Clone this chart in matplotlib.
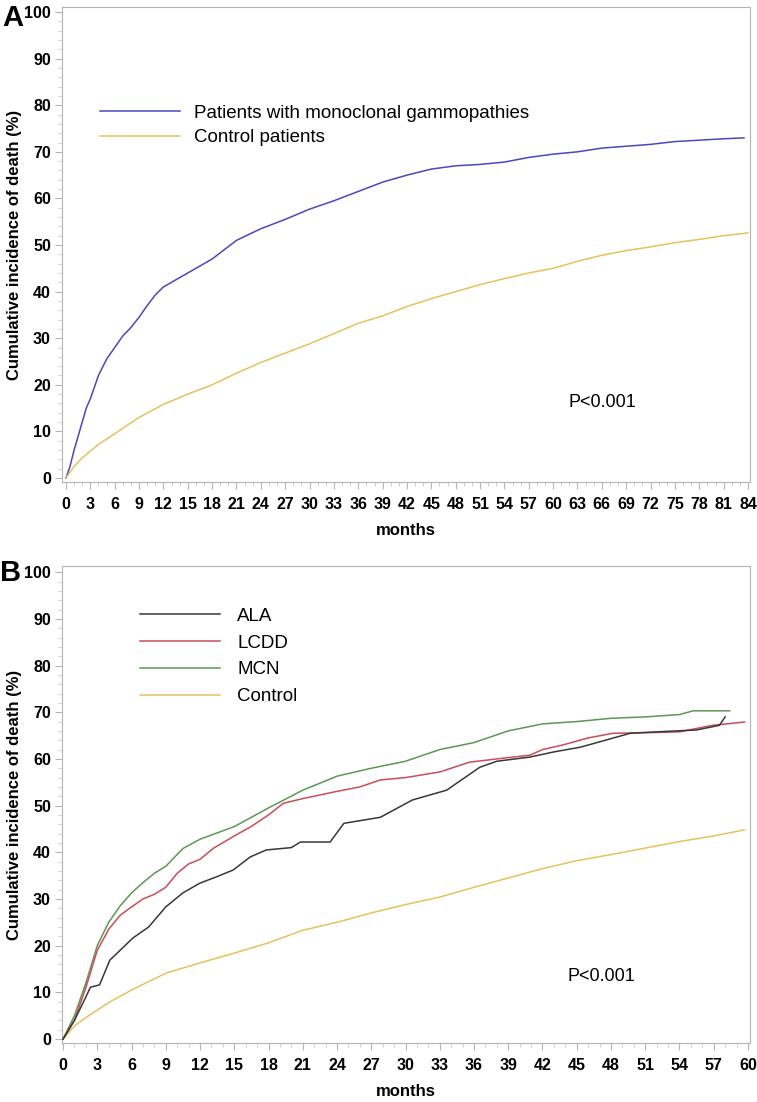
import matplotlib
matplotlib.use("Agg")
import matplotlib.pyplot as plt
from matplotlib.ticker import MultipleLocator

plt.rcParams['font.family'] = ['Liberation Sans', 'DejaVu Sans']

# panel A: monoclonal gammopathies vs controls
a_months_mg = [0, 0.5, 1, 1.5, 2, 2.5, 3, 4, 5, 6, 7, 8, 9, 10, 11, 12, 15, 18, 21, 24, 27,
               30, 33, 36, 39, 42, 45, 48, 51, 54, 57, 60, 63, 66, 69, 72, 75, 78, 81, 83.5]
a_mg = [0, 2.5, 6, 9, 12, 15, 17, 22, 25.5, 28, 30.5, 32.3, 34.5, 37, 39.3, 41, 44, 47, 51, 53.5, 55.5,
        57.7, 59.5, 61.5, 63.5, 65, 66.3, 67, 67.3, 67.8, 68.8, 69.5, 70, 70.8, 71.2, 71.6, 72.2, 72.5, 72.8, 73]

a_months_ctrl = [0, 1, 2, 3, 4, 6, 9, 12, 15, 18, 21, 24, 27, 30, 33, 36, 39, 42, 45, 48,
                 51, 54, 57, 60, 63, 66, 69, 72, 75, 78, 81, 84]
a_ctrl = [0, 2.5, 4.3, 5.8, 7.2, 9.5, 13, 15.8, 18, 20, 22.5, 24.8, 26.8, 28.8, 31, 33.2, 34.8, 36.8, 38.5, 40,
          41.5, 42.8, 44, 45, 46.5, 47.8, 48.8, 49.6, 50.5, 51.2, 52, 52.6]

# panel B: by diagnosis
b_months_ala = [0, 1, 2, 2.4, 3.2, 4.1, 5, 6.1, 7.5, 9, 10.5, 12, 13.4, 14.9, 16.4, 17.8, 20, 20.8, 23.4,
                24.6, 27.8, 30.6, 33.6, 36.5, 38, 40.9, 43, 45.3, 47.5, 49.7, 52, 55.5, 57.5, 58]
b_ala = [0, 4, 9, 11.1, 11.6, 16.9, 19, 21.6, 24, 28.3, 31.3, 33.4, 34.7, 36.2, 39, 40.5, 41, 42.2, 42.2,
         46.2, 47.5, 51.2, 53.3, 58.2, 59.5, 60.4, 61.5, 62.5, 64, 65.5, 65.8, 66.2, 67.2, 69]

b_months_lcdd = [0, 1, 2, 3, 4, 5, 6, 7, 8, 9, 10, 11, 12, 13.2, 15, 16.4, 18, 19.3, 21, 23.7, 26, 27.8,
                 30, 33, 35.6, 38, 40.9, 42, 43.8, 46, 48.2, 51, 54, 56.9, 59.7]
b_lcdd = [0, 4, 11, 19, 23.5, 26.5, 28.3, 30, 31, 32.5, 35.5, 37.5, 38.5, 40.9, 43.5, 45.4, 48, 50.5, 51.5, 52.9, 54, 55.5,
          56, 57.2, 59.3, 60, 60.8, 62, 63, 64.5, 65.5, 65.6, 65.8, 67.2, 67.9]

b_months_mcn = [0, 1, 2, 3, 4, 5, 6, 7, 8, 9, 10.5, 12, 15, 18, 21, 24, 27, 30, 33, 36, 39, 42, 45,
                48, 51, 54, 55.2, 58.4]
b_mcn = [0, 5, 12, 20, 25, 28.5, 31.3, 33.5, 35.5, 37, 40.8, 42.8, 45.5, 49.5, 53.3, 56.3, 58, 59.5, 62, 63.5, 66, 67.5, 68,
         68.7, 69, 69.5, 70.3, 70.3]

b_months_ctrl = [0, 1, 2, 3, 4, 6, 9, 12, 15, 18, 21, 24, 27, 30, 33, 36, 39, 42, 45, 48, 51, 54, 57, 59.7]
b_ctrl = [0, 2.8, 4.6, 6.2, 7.8, 10.5, 14.1, 16.3, 18.4, 20.6, 23.3, 25, 27, 28.8, 30.4, 32.5, 34.5, 36.5, 38.2,
          39.5, 40.9, 42.3, 43.5, 44.8]

fig = plt.figure(figsize=(7.57, 11.02), dpi=100)
axA = fig.add_axes([0.0819, 0.5626, 0.9089, 0.4310])
axB = fig.add_axes([0.0819, 0.0535, 0.9089, 0.4328])


def style(ax):
    for s in ax.spines.values():
        s.set_color('#b4b4b4')
    ax.yaxis.set_major_locator(MultipleLocator(10))
    ax.yaxis.set_minor_locator(MultipleLocator(2))
    ax.xaxis.set_major_locator(MultipleLocator(3))
    ax.xaxis.set_minor_locator(MultipleLocator(1))
    ax.tick_params(which='major', length=5, color='#b4b4b4', labelsize=11.5)
    ax.tick_params(axis='x', which='major', pad=6)
    ax.tick_params(axis='y', which='major', pad=3)
    ax.tick_params(which='minor', length=3, color='#c8c8c8')
    for lab in ax.get_xticklabels() + ax.get_yticklabels():
        lab.set_fontweight('bold')
    ax.set_xlabel('months', fontsize=12, fontweight='bold', labelpad=8)
    ax.set_ylabel('Cumulative incidence of death (%)', fontsize=12, fontweight='bold')
    ax.yaxis.set_label_coords(-0.058, 0.5)


axA.plot(a_months_mg, a_mg, color='#4848c4', lw=1.1, label='Patients with monoclonal gammopathies')
axA.plot(a_months_ctrl, a_ctrl, color='#e6c25a', lw=1.1, label='Control patients')
axA.set_xlim(-0.49, 84.25)
axA.set_ylim(-0.86, 101.07)
style(axA)
axA.legend(loc='upper left', bbox_to_anchor=(0.055, 0.795), frameon=False, fontsize=13.5,
           handlelength=4.3, handletextpad=0.7, labelspacing=0.4, borderpad=0, borderaxespad=0)
axA.text(66.1, 16.3, 'P<0.001', fontsize=13, ha='center', va='center')

axB.plot(b_months_ctrl, b_ctrl, color='#e6c25a', lw=1.1, label='Control', zorder=2)
axB.plot(b_months_mcn, b_mcn, color='#5a9a50', lw=1.1, label='MCN', zorder=3)
axB.plot(b_months_lcdd, b_lcdd, color='#cc4c58', lw=1.1, label='LCDD', zorder=4)
axB.plot(b_months_ala, b_ala, color='#383838', lw=1.1, label='ALA', zorder=5)
axB.set_xlim(-0.09, 60.18)
axB.set_ylim(-0.86, 101.3)
style(axB)
h, l = axB.get_legend_handles_labels()
order = [3, 2, 1, 0]
axB.legend([h[i] for i in order], [l[i] for i in order], loc='upper left', bbox_to_anchor=(0.113, 0.913),
           frameon=False, fontsize=13.5, handlelength=4.3, handletextpad=0.9, labelspacing=0.52,
           borderpad=0, borderaxespad=0)
axB.text(47.2, 13.3, 'P<0.001', fontsize=13, ha='center', va='center')

fig.text(0.003, 1 - 4 / 1102, 'A', fontsize=21, fontweight='bold', va='top', ha='left')
fig.text(0.0, 1 - 559 / 1102, 'B', fontsize=21, fontweight='bold', va='top', ha='left')

fig.savefig('out.png', dpi=100)
